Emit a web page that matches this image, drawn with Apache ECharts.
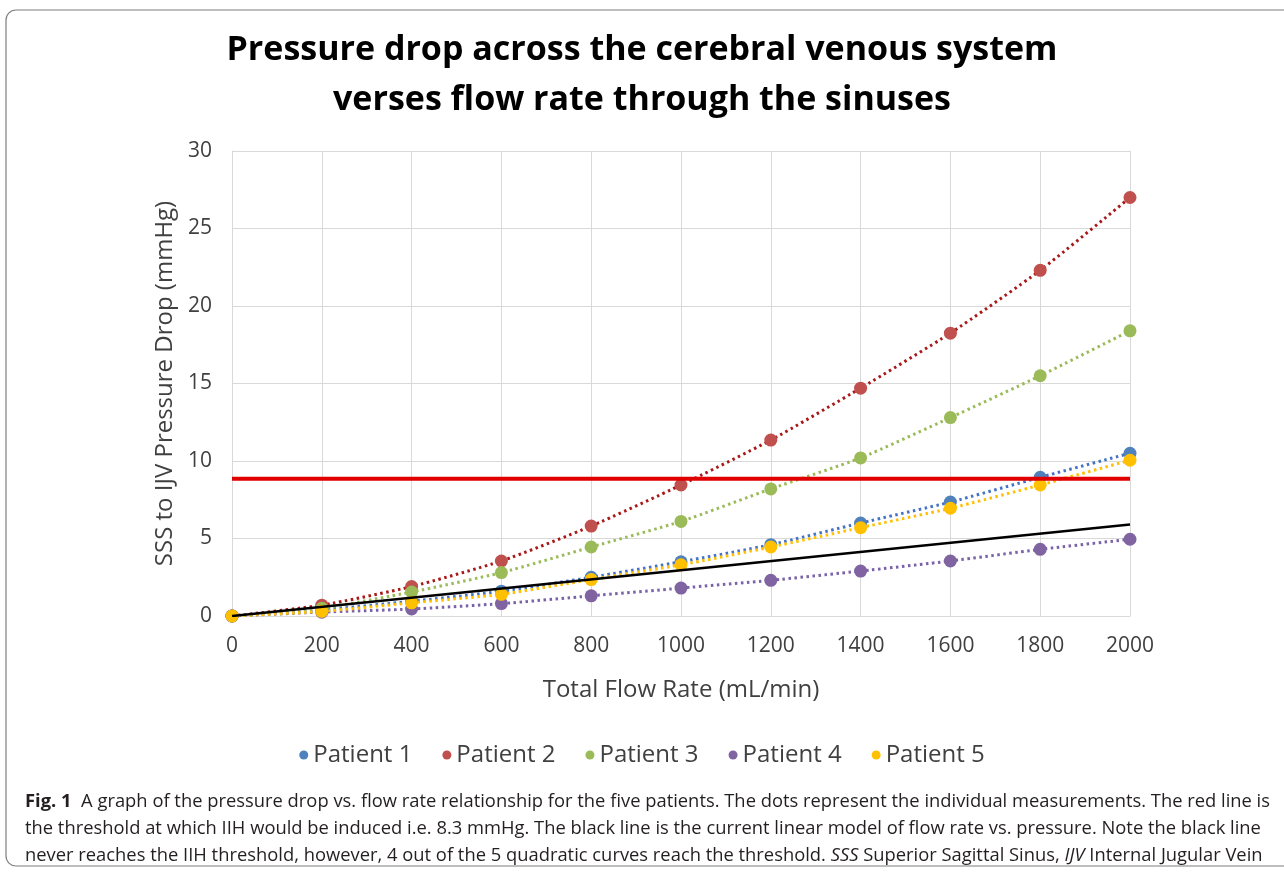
<!DOCTYPE html>
<html>
<head>
<meta charset="utf-8">
<script src="https://cdn.jsdelivr.net/npm/echarts@6/dist/echarts.min.js"></script>
<style>
  html, body { margin: 0; padding: 0; background: #fff; }
  #chart { width: 1284px; height: 873px; }
</style>
</head>
<body>
<div id="chart"></div>
<script>
// flow rate (mL/min) and pressure drop (mmHg) per patient
const flowRates = [0, 200, 400, 600, 800, 1000, 1200, 1400, 1600, 1800, 2000];
const patient1 = [0, 0.4, 0.95, 1.6, 2.5, 3.5, 4.6, 6.0, 7.35, 8.95, 10.5];
const patient2 = [0, 0.7, 1.9, 3.55, 5.8, 8.45, 11.35, 14.7, 18.25, 22.3, 27.0];
const patient3 = [0, 0.5, 1.55, 2.8, 4.45, 6.1, 8.2, 10.2, 12.8, 15.5, 18.4];
const patient4 = [0, 0.25, 0.45, 0.8, 1.3, 1.8, 2.3, 2.9, 3.55, 4.3, 4.95];
const patient5 = [0, 0.3, 0.85, 1.4, 2.35, 3.3, 4.45, 5.7, 6.95, 8.45, 10.05];
const linearModel = [[0, 0], [2000, 5.9]];
const threshold = [[0, 8.85], [2000, 8.85]];
const patientNames = ['Patient 1', 'Patient 2', 'Patient 3', 'Patient 4', 'Patient 5'];
const patientColors = ['#4F81BD', '#C0504D', '#9BBB59', '#8064A2', '#FFC000'];
const lineColors = ['#4472C4', '#A81818', '#9BBB59', '#7A62A8', '#FFC000'];

const captionLines = [
  'A graph of the pressure drop vs. flow rate relationship for the five patients. The dots represent the individual measurements. The red line is',
  'the threshold at which IIH would be induced i.e. 8.3 mmHg. The black line is the current linear model of flow rate vs. pressure. Note the black line',
  'never reaches the IIH threshold, however, 4 out of the 5 quadratic curves reach the threshold. {i|SSS} Superior Sagittal Sinus, {i|IJV} Internal Jugular Vein'
];

const chart = echarts.init(document.getElementById('chart'));
const allPatients = [patient1, patient2, patient3, patient4, patient5];

// squeeze the caption to the width of the printed figure caption
const mctx = document.createElement('canvas').getContext('2d');
mctx.font = 'bold 18px "Open Sans"';
let capW = mctx.measureText('Fig. 1  ').width;
mctx.font = '18px "Open Sans"';
capW += mctx.measureText(captionLines[0]).width;
const capScale = 1245 / capW;

const txt = '#404040';
const series = allPatients.map((vals, i) => ({
  name: patientNames[i],
  type: 'line',
  smooth: 0.2,
  data: vals.map((v, j) => [flowRates[j], v]),
  symbol: 'circle',
  symbolSize: 13,
  itemStyle: { color: patientColors[i] },
  lineStyle: { color: lineColors[i], width: 3, type: [2.5, 3.5] },
  z: 3
}));
series.push({
  name: 'threshold',
  type: 'line',
  data: threshold,
  symbol: 'none',
  lineStyle: { color: '#E00000', width: 4 },
  z: 4
});
series.push({
  name: 'linear',
  type: 'line',
  data: linearModel,
  symbol: 'none',
  lineStyle: { color: '#000', width: 2.5 },
  z: 5
});

chart.setOption({
  animation: false,
  title: {
    text: 'Pressure drop across the cerebral venous system\nverses flow rate through the sinuses',
    left: 'center',
    top: 20,
    textStyle: {
      fontFamily: 'Open Sans', fontWeight: 'bold', fontSize: 34,
      color: '#000', lineHeight: 50
    }
  },
  legend: {
    data: patientNames,
    bottom: 101,
    left: 'center',
    icon: 'circle',
    itemWidth: 9,
    itemHeight: 9,
    itemGap: 30,
    textStyle: { fontFamily: 'Open Sans', fontSize: 24, color: txt }
  },
  grid: { left: 232, right: 154, top: 151, bottom: 257, containLabel: false },
  xAxis: {
    type: 'value',
    min: 0, max: 2000, interval: 200,
    name: 'Total Flow Rate (mL/min)',
    nameLocation: 'middle',
    nameGap: 62,
    nameTextStyle: { fontFamily: 'Open Sans', fontSize: 24, color: txt },
    axisLine: { lineStyle: { color: '#d9d9d9' } },
    axisTick: { show: false },
    axisLabel: {
      fontFamily: 'Open Sans', fontSize: 21, color: txt, margin: 20,
      formatter: v => String(v)
    },
    splitLine: { lineStyle: { color: '#d9d9d9' } }
  },
  yAxis: {
    type: 'value',
    min: 0, max: 30, interval: 5,
    name: 'SSS to IJV Pressure Drop (mmHg)',
    nameLocation: 'middle',
    nameGap: 33,
    nameTextStyle: { fontFamily: 'Open Sans', fontSize: 24, color: txt },
    axisLine: { show: true, lineStyle: { color: '#d9d9d9' } },
    axisTick: { show: false },
    axisLabel: { fontFamily: 'Open Sans', fontSize: 21, color: txt, margin: 20 },
    splitLine: { lineStyle: { color: '#d9d9d9' } }
  },
  graphic: [
    {
      type: 'rect',
      shape: { x: 6, y: 10, width: 1300, height: 856, r: 10 },
      style: { fill: 'none', stroke: '#7f7f7f', lineWidth: 1.2 },
      z: -1
    },
    {
      type: 'text',
      x: 25,
      y: 788,
      scaleX: capScale,
      style: {
        text: '{b|Fig. 1}  ' + captionLines.join('\n'),
        fontFamily: 'Open Sans',
        fontSize: 18,
        fill: '#231f20',
        lineHeight: 27,
        rich: {
          b: { fontWeight: 'bold', fontSize: 18, fontFamily: 'Open Sans', fill: '#231f20', lineHeight: 27 },
          i: { fontStyle: 'italic', fontSize: 18, fontFamily: 'Open Sans', fill: '#231f20', lineHeight: 27 }
        }
      }
    }
  ],
  series: series
});
</script>
</body>
</html>
